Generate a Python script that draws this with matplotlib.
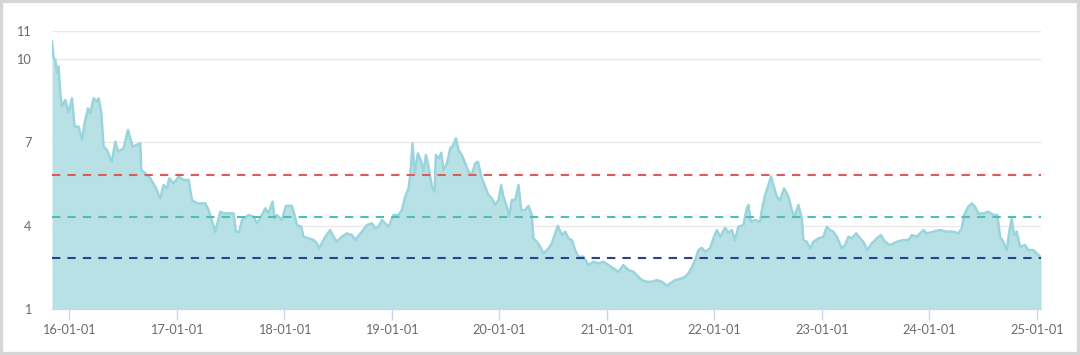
import matplotlib
matplotlib.use("Agg")
import matplotlib.pyplot as plt
from matplotlib.patches import Rectangle

plt.rcParams['font.family'] = ['Lato', 'DejaVu Sans']

# time in decimal years
t = [2015.839, 2015.854, 2015.870, 2015.886, 2015.900, 2015.916, 2015.932, 2015.963, 2015.979, 2015.993,
     2016.025, 2016.049, 2016.086, 2016.118, 2016.142, 2016.174, 2016.195, 2016.226, 2016.258, 2016.273,
     2016.298, 2016.319, 2016.351, 2016.381, 2016.397, 2016.428, 2016.453, 2016.505, 2016.546, 2016.567,
     2016.589, 2016.660, 2016.670, 2016.707, 2016.753, 2016.800, 2016.846, 2016.877, 2016.909, 2016.930,
     2016.970, 2017.017, 2017.063, 2017.110, 2017.141, 2017.188, 2017.265, 2017.296, 2017.358, 2017.404,
     2017.435, 2017.528, 2017.550, 2017.581, 2017.606, 2017.668, 2017.714, 2017.746, 2017.792, 2017.823,
     2017.854, 2017.891, 2017.909, 2017.932, 2017.978, 2018.015, 2018.071, 2018.095, 2018.118, 2018.158,
     2018.179, 2018.226, 2018.272, 2018.304, 2018.325, 2018.365, 2018.381, 2018.427, 2018.458, 2018.490,
     2018.536, 2018.583, 2018.629, 2018.660, 2018.722, 2018.769, 2018.815, 2018.846, 2018.877, 2018.908,
     2018.939, 2018.970, 2019.016, 2019.063, 2019.094, 2019.125, 2019.156, 2019.172, 2019.193, 2019.212,
     2019.243, 2019.274, 2019.295, 2019.318, 2019.342, 2019.373, 2019.398, 2019.410, 2019.441, 2019.460,
     2019.481, 2019.513, 2019.544, 2019.574, 2019.597, 2019.621, 2019.652, 2019.683, 2019.714, 2019.745,
     2019.776, 2019.801, 2019.838, 2019.869, 2019.900, 2019.931, 2019.962, 2019.993, 2020.018, 2020.039,
     2020.071, 2020.092, 2020.117, 2020.148, 2020.179, 2020.204, 2020.241, 2020.272, 2020.303, 2020.318,
     2020.350, 2020.381, 2020.411, 2020.458, 2020.489, 2020.520, 2020.545, 2020.582, 2020.613, 2020.644,
     2020.675, 2020.706, 2020.737, 2020.783, 2020.830, 2020.876, 2020.923, 2020.969, 2021.016, 2021.062,
     2021.109, 2021.155, 2021.202, 2021.248, 2021.295, 2021.326, 2021.373, 2021.419, 2021.466, 2021.512,
     2021.559, 2021.590, 2021.636, 2021.683, 2021.729, 2021.760, 2021.791, 2021.822, 2021.853, 2021.884,
     2021.915, 2021.962, 2021.992, 2022.024, 2022.055, 2022.101, 2022.132, 2022.164, 2022.194, 2022.225,
     2022.271, 2022.303, 2022.318, 2022.340, 2022.380, 2022.427, 2022.443, 2022.473, 2022.504, 2022.529,
     2022.550, 2022.582, 2022.613, 2022.650, 2022.690, 2022.722, 2022.746, 2022.783, 2022.815, 2022.829,
     2022.861, 2022.892, 2022.922, 2022.969, 2023.015, 2023.047, 2023.078, 2023.108, 2023.140, 2023.187,
     2023.217, 2023.248, 2023.280, 2023.320, 2023.357, 2023.387, 2023.425, 2023.466, 2023.512, 2023.549,
     2023.589, 2023.636, 2023.698, 2023.760, 2023.806, 2023.838, 2023.884, 2023.946, 2023.977, 2024.039,
     2024.101, 2024.163, 2024.225, 2024.271, 2024.303, 2024.324, 2024.364, 2024.396, 2024.426, 2024.457,
     2024.504, 2024.550, 2024.597, 2024.634, 2024.659, 2024.690, 2024.721, 2024.745, 2024.768, 2024.789,
     2024.814, 2024.845, 2024.891, 2024.922, 2024.969, 2025.000, 2025.040]

values = [10.62, 10.02, 9.96, 9.48, 9.72, 8.76, 8.28, 8.52, 8.28, 8.06,
          8.58, 7.56, 7.56, 7.08, 7.68, 8.22, 8.04, 8.58, 8.46, 8.58,
          8.04, 6.84, 6.72, 6.42, 6.30, 7.02, 6.66, 6.78, 7.44, 7.14,
          6.84, 6.96, 6.00, 5.88, 5.70, 5.40, 4.98, 5.46, 5.34, 5.70,
          5.52, 5.76, 5.64, 5.64, 4.92, 4.80, 4.80, 4.56, 3.78, 4.50,
          4.44, 4.44, 3.78, 3.78, 4.20, 4.38, 4.32, 4.08, 4.38, 4.62,
          4.44, 4.86, 4.26, 4.38, 4.20, 4.71, 4.71, 4.38, 4.02, 3.96,
          3.60, 3.54, 3.48, 3.36, 3.18, 3.48, 3.60, 3.84, 3.60, 3.42,
          3.60, 3.72, 3.66, 3.48, 3.78, 4.02, 4.08, 3.90, 3.96, 4.20,
          4.08, 3.96, 4.38, 4.38, 4.56, 5.04, 5.34, 5.82, 6.96, 5.88,
          6.60, 6.30, 5.94, 6.54, 6.12, 5.40, 5.22, 6.54, 6.42, 6.62,
          6.00, 6.24, 6.78, 6.90, 7.14, 6.72, 6.54, 6.24, 5.94, 5.82,
          6.24, 6.30, 5.70, 5.40, 5.10, 4.98, 4.74, 4.92, 5.46, 5.04,
          4.68, 4.32, 4.92, 4.92, 5.46, 4.56, 4.56, 4.71, 4.38, 3.54,
          3.42, 3.24, 3.00, 3.18, 3.36, 3.72, 3.99, 3.66, 3.78, 3.54,
          3.48, 3.12, 2.88, 2.88, 2.58, 2.70, 2.64, 2.70, 2.58, 2.46,
          2.34, 2.58, 2.40, 2.34, 2.16, 2.04, 1.98, 1.98, 2.04, 1.98,
          1.84, 1.92, 2.04, 2.08, 2.16, 2.28, 2.50, 2.76, 3.12, 3.20,
          3.06, 3.18, 3.54, 3.84, 3.60, 3.92, 3.74, 3.84, 3.48, 3.96,
          4.02, 4.62, 4.74, 4.14, 4.20, 4.14, 4.56, 5.10, 5.46, 5.76,
          5.46, 5.04, 4.92, 5.34, 5.04, 4.56, 4.32, 4.74, 4.26, 3.48,
          3.42, 3.18, 3.42, 3.54, 3.60, 3.96, 3.84, 3.78, 3.60, 3.18,
          3.30, 3.60, 3.54, 3.72, 3.54, 3.42, 3.12, 3.36, 3.54, 3.66,
          3.42, 3.30, 3.42, 3.48, 3.48, 3.66, 3.60, 3.84, 3.72, 3.78,
          3.84, 3.78, 3.78, 3.72, 3.90, 4.38, 4.68, 4.80, 4.68, 4.44,
          4.44, 4.50, 4.38, 4.38, 3.60, 3.42, 3.10, 3.78, 4.26, 3.66,
          3.78, 3.24, 3.30, 3.12, 3.12, 3.00, 2.86]

ref_lines = [5.82, 4.31, 2.84]
ref_colors = ['#e05a5c', '#4dbfb7', '#2f3f8c']

tick_years = [2016, 2017, 2018, 2019, 2020, 2021, 2022, 2023, 2024, 2025]
tick_labels = ['16-01-01', '17-01-01', '18-01-01', '19-01-01', '20-01-01',
               '21-01-01', '22-01-01', '23-01-01', '24-01-01', '25-01-01']
y_ticks = [1, 4, 7, 10, 11]

W, H = 1080, 355
fig = plt.figure(figsize=(W / 100, H / 100), dpi=100)
fig.patch.set_facecolor('white')
ax = fig.add_axes([52 / W, 1 - 309 / H, (1041 - 52) / W, (309 - 31) / H])

ax.set_xlim(t[0], t[-1])
ax.set_ylim(1, 11)

for yv in y_ticks[1:]:
    ax.axhline(yv, color='#e9e9e9', lw=1.0, zorder=1)

ax.fill_between(t, 1, values, color='#b8e1e6', lw=0, zorder=2)
ax.plot(t, values, color='#9ad4dc', lw=1.8, zorder=3, solid_joinstyle='round')

for v, c in zip(ref_lines, ref_colors):
    ax.axhline(v, color=c, lw=1.5, dashes=(4, 3.4), zorder=4)

for s in ['top', 'right', 'left']:
    ax.spines[s].set_visible(False)
ax.spines['bottom'].set_color('#ccd6eb')
ax.spines['bottom'].set_linewidth(1.0)
ax.spines['bottom'].set_zorder(5)

ax.set_xticks(tick_years)
ax.set_xticklabels(tick_labels)
ax.set_yticks(y_ticks)
ax.set_yticklabels([str(v) for v in y_ticks])
ax.tick_params(axis='x', length=8, width=1, color='#ccd6eb', labelsize=9.2,
               labelcolor='#6b6b6b', pad=3)
ax.tick_params(axis='y', length=0, labelsize=9.2, labelcolor='#6b6b6b', pad=15)

fig.patches.append(Rectangle((0, 0), 1, 1, transform=fig.transFigure, fill=False,
                             edgecolor='#d6d6d6', linewidth=4.5, zorder=10))

fig.savefig('out.png', dpi=100, facecolor='white')
